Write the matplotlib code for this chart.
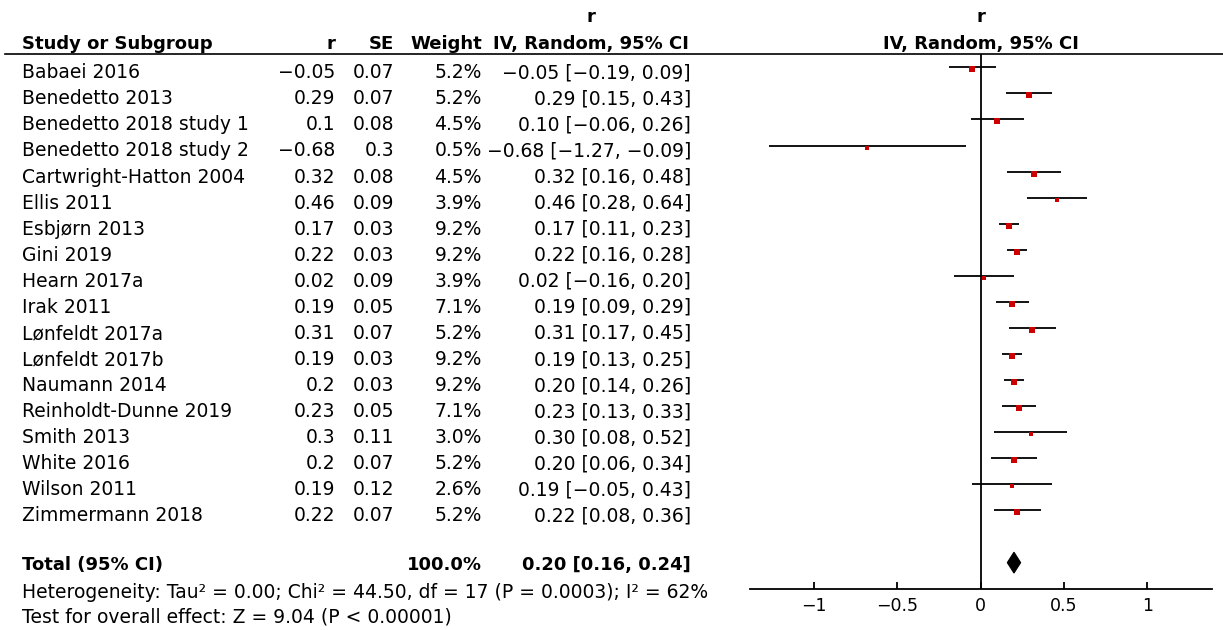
import matplotlib
matplotlib.use("Agg")
import matplotlib.pyplot as plt
from matplotlib.patches import Polygon
from matplotlib.transforms import ScaledTranslation

# ---------------- data ----------------
studies = ["Babaei 2016", "Benedetto 2013", "Benedetto 2018 study 1", "Benedetto 2018 study 2",
           "Cartwright-Hatton 2004", "Ellis 2011", "Esbjørn 2013", "Gini 2019", "Hearn 2017a",
           "Irak 2011", "Lønfeldt 2017a", "Lønfeldt 2017b", "Naumann 2014",
           "Reinholdt-Dunne 2019", "Smith 2013", "White 2016", "Wilson 2011", "Zimmermann 2018"]
r_vals = [-0.05, 0.29, 0.1, -0.68, 0.32, 0.46, 0.17, 0.22, 0.02, 0.19, 0.31, 0.19, 0.2,
          0.23, 0.3, 0.2, 0.19, 0.22]
se_vals = [0.07, 0.07, 0.08, 0.3, 0.08, 0.09, 0.03, 0.03, 0.09, 0.05, 0.07, 0.03, 0.03,
           0.05, 0.11, 0.07, 0.12, 0.07]
weights = [5.2, 5.2, 4.5, 0.5, 4.5, 3.9, 9.2, 9.2, 3.9, 7.1, 5.2, 9.2, 9.2, 7.1, 3.0, 5.2, 2.6, 5.2]
ci_low = [-0.19, 0.15, -0.06, -1.27, 0.16, 0.28, 0.11, 0.16, -0.16, 0.09, 0.17, 0.13, 0.14,
          0.13, 0.08, 0.06, -0.05, 0.08]
ci_high = [0.09, 0.43, 0.26, -0.09, 0.48, 0.64, 0.23, 0.28, 0.20, 0.29, 0.45, 0.25, 0.26,
           0.33, 0.52, 0.34, 0.43, 0.36]
total_est = 0.20
total_low = 0.16
total_high = 0.24
total_weight = "100.0%"
heterogeneity = "Heterogeneity: Tau² = 0.00; Chi² = 44.50, df = 17 (P = 0.0003); I² = 62%"
overall = "Test for overall effect: Z = 9.04 (P < 0.00001)"
x_ticks = [-1, -0.5, 0, 0.5, 1]
x_ticklabels = ["−1", "−0.5", "0", "0.5", "1"]

# ---------------- helpers ----------------
def fmt_g(v):
    return f"{v:g}".replace("-", "−")

def fmt2(v):
    return f"{v:.2f}".replace("-", "−")

# ---------------- figure ----------------
W, H = 1223, 630
fig = plt.figure(figsize=(W / 100, H / 100), dpi=100)
plt.rcParams['font.family'] = ['DejaVu Sans']

row0_px = 67.3
row_px = 26.07
n = len(studies)
total_row = n + 1

# text axes: x in pixels, y in row units
axt = fig.add_axes([0, 0, 1, 1])
axt.set_xlim(0, W)
axt.set_ylim((H - row0_px) / row_px, -row0_px / row_px)
axt.axis("off")

# forest axes
zero_px = 980.65
unit_px = 166.65
top_px, bot_px = 54, 589
xl, xr = 749.65, 1211.65
ax = fig.add_axes([xl / W, (H - bot_px) / H, (xr - xl) / W, (bot_px - top_px) / H])
ax.patch.set_alpha(0)
ax.set_xlim((xl - zero_px) / unit_px, (xr - zero_px) / unit_px)
ax.set_ylim((bot_px - row0_px) / row_px, (top_px - row0_px) / row_px)
for s in ["top", "left", "right"]:
    ax.spines[s].set_visible(False)
ax.spines["bottom"].set_linewidth(1.3)
ax.set_yticks([])
ax.set_xticks(x_ticks)
ax.set_xticklabels(x_ticklabels, fontsize=12.5)
ax.tick_params(axis="x", direction="in", length=5, width=1.3, pad=6)
ax.axvline(0, color="black", lw=1.3)

red = "#cc0000"
sq_off = ax.transData + ScaledTranslation(0, -2 / 100, fig.dpi_scale_trans)
for i in range(n):
    ax.plot([ci_low[i], ci_high[i]], [i, i], color="black", lw=1.3, solid_capstyle="butt")
    side_px = 3.6 + 0.32 * weights[i]
    ax.plot([r_vals[i]], [i], marker="s", ms=side_px * 72 / 100, color=red, mec=red, mew=0,
            transform=sq_off, ls="none")

diamond = Polygon([[total_low, total_row], [total_est, total_row - 0.4],
                   [total_high, total_row], [total_est, total_row + 0.4]],
                  closed=True, facecolor="black", edgecolor="black", lw=0.8)
ax.add_patch(diamond)

# ---------------- table text ----------------
fs = 13.5
fsb = 13
x_study, x_r, x_se, x_w, x_ci = 22, 335, 394, 482, 691
x_ci_center = 591
base = 0.42

# headers
axt.text(x_ci_center, -1.75, "r", ha="center", va="baseline", fontsize=fsb, fontweight="bold")
axt.text(x_study, -0.70, "Study or Subgroup", ha="left", va="baseline", fontsize=fsb, fontweight="bold")
axt.text(x_r, -0.70, "r", ha="right", va="baseline", fontsize=fsb, fontweight="bold")
axt.text(x_se, -0.70, "SE", ha="right", va="baseline", fontsize=fsb, fontweight="bold")
axt.text(x_w, -0.70, "Weight", ha="right", va="baseline", fontsize=fsb, fontweight="bold")
axt.text(x_ci_center, -0.70, "IV, Random, 95% CI", ha="center", va="baseline", fontsize=fsb, fontweight="bold")
axt.text(zero_px, -1.75, "r", ha="center", va="baseline", fontsize=fsb, fontweight="bold")
axt.text(zero_px, -0.70, "IV, Random, 95% CI", ha="center", va="baseline", fontsize=fsb, fontweight="bold")
axt.plot([5, W], [(top_px - row0_px) / row_px] * 2, color="black", lw=1.2)

for i in range(n):
    y = i + base
    axt.text(x_study, y, studies[i], ha="left", va="baseline", fontsize=fs)
    axt.text(x_r, y, fmt_g(r_vals[i]), ha="right", va="baseline", fontsize=fs)
    axt.text(x_se, y, fmt_g(se_vals[i]), ha="right", va="baseline", fontsize=fs)
    axt.text(x_w, y, f"{weights[i]:.1f}%", ha="right", va="baseline", fontsize=fs)
    axt.text(x_ci, y, f"{fmt2(r_vals[i])} [{fmt2(ci_low[i])}, {fmt2(ci_high[i])}]",
             ha="right", va="baseline", fontsize=fs)

yt = total_row + 0.29
axt.text(x_study, yt, "Total (95% CI)", ha="left", va="baseline", fontsize=fsb, fontweight="bold")
axt.text(x_w, yt, total_weight, ha="right", va="baseline", fontsize=fsb, fontweight="bold")
axt.text(x_ci, yt, f"{fmt2(total_est)} [{fmt2(total_low)}, {fmt2(total_high)}]",
         ha="right", va="baseline", fontsize=fsb, fontweight="bold")
axt.text(x_study, total_row + 1.36, heterogeneity, ha="left", va="baseline", fontsize=fs)
axt.text(x_study, total_row + 2.28, overall, ha="left", va="baseline", fontsize=fs)

fig.savefig("out.png", dpi=100)
